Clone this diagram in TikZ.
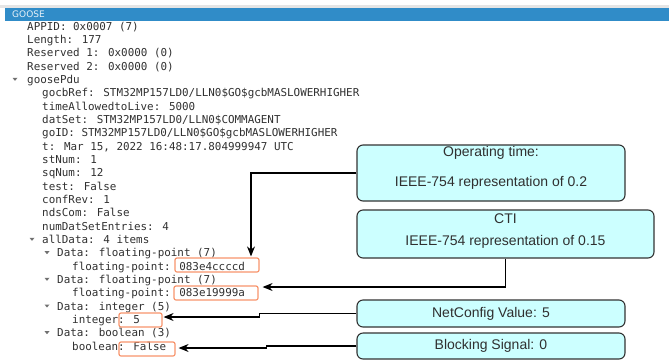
\documentclass[tikz,border=0pt]{standalone}
\usepackage{fontspec}
\setmainfont{Liberation Sans}
\newfontfamily\treefont{DejaVu Sans Mono}
\newfontfamily\barfont{DejaVu Sans}
\usetikzlibrary{positioning, arrows.meta}
\definecolor{cBar}{HTML}{308CC8}
\definecolor{cNote}{HTML}{CCFFFF}
\definecolor{cMark}{HTML}{F7946C}
\definecolor{cText}{HTML}{303030}
\definecolor{cTri}{HTML}{707070}

\begin{document}
\begin{tikzpicture}[
  x=1pt, y=-1pt,
  row/.style={
    anchor=base west, inner sep=0pt, text=cText,
    font=\treefont\fontsize{10.9}{12}\selectfont
  },
  hlbox/.style={
    draw=cMark, line width=1.2pt, rounded corners=2pt,
    minimum width=#1, minimum height=14pt, inner sep=0pt
  },
  note/.style={
    draw=black!80, fill=cNote, line width=1.1pt, rounded corners=6pt,
    inner sep=0pt, text=cText, font=\fontsize{14}{16}\selectfont
  },
  notetxt/.style={
    inner sep=0pt, text=cText, font=\fontsize{14}{16}\selectfont
  },
  conn/.style={
    -{Stealth[length=10pt, width=8pt]}, line width=1.2pt, black
  },
]
\useasboundingbox (0,0) rectangle (669,360);

% header bar
\fill[black!10] (0,5) rectangle (669,7.5);
\fill[cBar] (5,7.5) rectangle (669,21);
\node[anchor=west, inner sep=0pt, text=white!88!cBar,
      font=\barfont\fontsize{9}{10}\selectfont] (hdr) at (12,14) {GOOSE};

% packet tree
\foreach \i/\xx/\txt in {
  0/27/{APPID: 0x0007 (7)}, 1/27/{Length: 177},
  2/27/{Reserved 1: 0x0000 (0)}, 3/27/{Reserved 2: 0x0000 (0)},
  4/27/{goosePdu},
  5/42/{gocbRef: STM32MP157LD0/LLN0\$GO\$gcbMASLOWERHIGHER},
  6/42/{timeAllowedtoLive: 5000},
  7/42/{datSet: STM32MP157LD0/LLN0\$COMMAGENT},
  8/42/{goID: STM32MP157LD0/LLN0\$GO\$gcbMASLOWERHIGHER},
  9/42/{t: Mar 15, 2022 16:48:17.804999947 UTC},
  10/42/{stNum: 1}, 11/42/{sqNum: 12}, 12/42/{test: False},
  13/42/{confRev: 1}, 14/42/{ndsCom: False},
  15/42/{numDatSetEntries: 4}, 16/42/{allData: 4 items},
  17/57/{Data: floating-point (7)}, 18/72/{floating-point: 083e4ccccd},
  19/57/{Data: floating-point (7)}, 20/72/{floating-point: 083e19999a},
  21/57/{Data: integer (5)}, 22/72/{integer: 5},
  23/57/{Data: boolean (3)}, 24/72/{boolean: False}} {
  \node[row] (r\i) at (\xx, 30+13.333*\i) {\txt};
}

% fold markers
\foreach \i/\xx in {4/15, 16/32, 17/47, 19/47, 21/47, 23/47} {
  \fill[cTri] (\xx-2.5, 24.5+13.333*\i) -- (\xx+2.5, 24.5+13.333*\i)
    -- (\xx, 27.5+13.333*\i) -- cycle;
}

% highlighted values
\node[hlbox=84pt] (v1) at (217,265) {};
\node[hlbox=84pt] (v2) at (216,293) {};
\node[hlbox=43pt] (v3) at (140.5,320) {};
\node[hlbox=56pt] (v4) at (147,349) {};

% notes
\node[note, minimum width=268pt, minimum height=56pt] (opt) at (491,173) {};
\node[notetxt] (opt1) at (491,153) {Operating time:};
\node[notetxt] (opt2) at (491,183) {IEEE-754 representation of 0.2};
\node[note, minimum width=297pt, minimum height=48pt] (cti) at (505.5,234) {};
\node[notetxt] (cti1) at (505.5,219) {CTI};
\node[notetxt] (cti2) at (505.5,242) {IEEE-754 representation of 0.15};
\node[note, minimum width=268pt, minimum height=27pt] (net) at (491,313.5)
  {NetConfig Value: 5};
\node[note, minimum width=268pt, minimum height=26pt] (blk) at (491,346)
  {Blocking Signal: 0};

% connectors
\draw[conn] (opt.west) -| ([xshift=34pt, yshift=1pt]v1.north);
\draw[conn] (cti.south) |- ([xshift=4pt, yshift=6pt]v2.east);
\draw[conn] (net.west) -- ++(-97,0) |- ([xshift=1pt, yshift=3pt]v3.east);
\draw[conn] (blk.west) -- ++(-90,0) |- ([xshift=3pt, yshift=1pt]v4.east);

\end{tikzpicture}
\end{document}
